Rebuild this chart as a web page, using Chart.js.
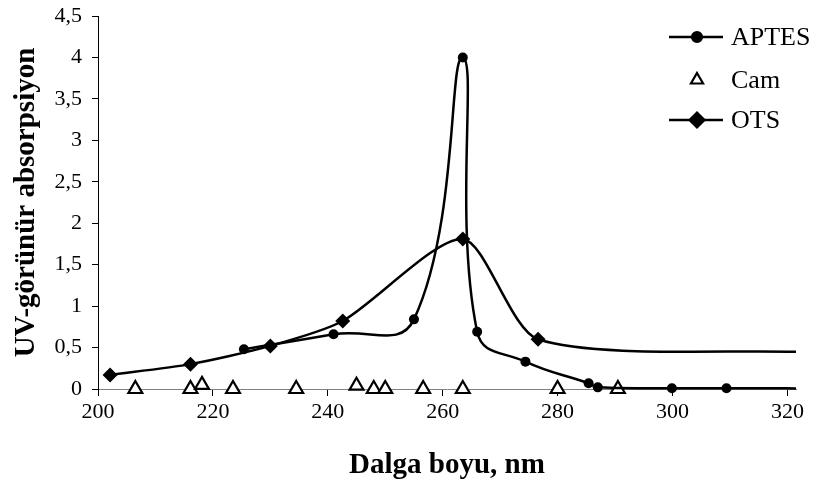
<!DOCTYPE html>
<html>
<head>
<meta charset="utf-8">
<script src="https://cdn.jsdelivr.net/npm/chart.js@4/dist/chart.umd.min.js"></script>
<style>
  html, body { margin: 0; padding: 0; background: #fff; }
  #wrap { width: 816px; height: 486px; position: relative; }
</style>
</head>
<body>
<div id="wrap"><canvas id="uvChart"></canvas></div>
<script>
// wavelength (nm) / absorbance
// the last point of APTES and OTS sits just past the right edge, the lines run on to it
const aptesX = [225.4, 241.0, 255.0, 263.5, 266.0, 274.4, 285.4, 287.0, 299.9, 309.4, 330];
const aptesY = [0.48, 0.66, 0.84, 4.0, 0.69, 0.33, 0.07, 0.02, 0.01, 0.01, 0.005];

const camX = [206.5, 216.1, 218.1, 223.5, 234.5, 245.0, 248.0, 250.0, 256.6, 263.5, 280.0, 290.5];
const camY = [0, 0, 0.05, 0, 0, 0.04, 0, 0, 0, 0, 0, 0];

const otsX = [202.1, 216.1, 230.0, 242.6, 263.5, 276.6, 323];
const otsY = [0.17, 0.30, 0.52, 0.82, 1.81, 0.60, 0.445];

const xTicks = [200, 220, 240, 260, 280, 300, 320];
const yTicks = [0, 0.5, 1, 1.5, 2, 2.5, 3, 3.5, 4, 4.5];
const yTickLabels = ["0", "0,5", "1", "1,5", "2", "2,5", "3", "3,5", "4", "4,5"];

const seriesNames = ["APTES", "Cam", "OTS"];

function toPoints(xs, ys) {
  return xs.map((x, i) => ({ x: x, y: ys[i] }));
}

const FONT = "'Liberation Serif', 'Times New Roman', serif";

// legend drawn on top of the plot, like the original
const legendPlugin = {
  id: "sideLegend",
  afterDraw(chart) {
    const ctx = chart.ctx;
    const items = [
      { name: seriesNames[0], y: 37, line: true, style: "circle", r: 5, fill: "#000" },
      { name: seriesNames[1], y: 80, line: false, style: "triangle", r: 7, fill: "#fff" },
      { name: seriesNames[2], y: 120, line: true, style: "rectRot", r: 7.5, fill: "#000" }
    ];
    ctx.save();
    items.forEach(it => {
      if (it.line) {
        ctx.beginPath();
        ctx.strokeStyle = "#000";
        ctx.lineWidth = 2.5;
        ctx.moveTo(669, it.y);
        ctx.lineTo(723, it.y);
        ctx.stroke();
      }
      ctx.fillStyle = it.fill;
      ctx.strokeStyle = "#000";
      ctx.lineWidth = 2.2;
      Chart.helpers.drawPoint(ctx, { pointStyle: it.style, radius: it.r, rotation: 0, borderWidth: 2.2 }, 697, it.y);
      ctx.fillStyle = "#000";
      ctx.font = "26px " + FONT;
      ctx.textBaseline = "middle";
      ctx.textAlign = "left";
      ctx.fillText(it.name, 731, it.y + 1);
    });
    ctx.restore();
  }
};

const ctx = document.getElementById("uvChart").getContext("2d");
new Chart(ctx, {
  type: "scatter",
  data: {
    datasets: [
      {
        label: seriesNames[0],
        data: toPoints(aptesX, aptesY),
        showLine: true,
        borderColor: "#000",
        backgroundColor: "#000",
        borderWidth: 2.5,
        tension: 0.45,
        pointStyle: "circle",
        pointRadius: 5,
        pointBorderWidth: 0,
        clip: { left: 0, top: 0, right: 0, bottom: 10 }
      },
      {
        label: seriesNames[1],
        data: toPoints(camX, camY),
        showLine: false,
        borderColor: "#000",
        backgroundColor: "#fff",
        pointStyle: "triangle",
        pointRadius: 8,
        pointBorderWidth: 2.2,
        clip: false
      },
      {
        label: seriesNames[2],
        data: toPoints(otsX, otsY),
        showLine: true,
        borderColor: "#000",
        backgroundColor: "#000",
        borderWidth: 2.5,
        tension: 0.25,
        pointStyle: "rectRot",
        pointRadius: otsX.map(x => (x > 321.5 ? 0 : 7.5)),
        pointBorderWidth: 0,
        clip: { left: 0, top: 0, right: 0, bottom: 10 }
      }
    ]
  },
  options: {
    responsive: true,
    maintainAspectRatio: false,
    animation: false,
    events: [],
    layout: { padding: { left: 0, top: 16, right: 20, bottom: 0 }, autoPadding: false },
    plugins: {
      legend: { display: false },
      tooltip: { enabled: false }
    },
    scales: {
      x: {
        type: "linear",
        min: 200,
        max: 321.5,
        afterBuildTicks: (scale) => { scale.ticks = xTicks.map(v => ({ value: v })); },
        afterFit: (scale) => { scale.height = 97; scale.paddingLeft = 0; scale.paddingRight = 0; },
        ticks: {
          color: "#000",
          font: { family: FONT, size: 22 },
          padding: 3,
          maxRotation: 0,
          callback: (v) => String(v)
        },
        grid: { drawOnChartArea: false, drawTicks: true, tickLength: 7, tickColor: "#000" },
        border: { display: true, color: "#808080", width: 1 },
        title: {
          display: true,
          text: "Dalga boyu, nm",
          color: "#000",
          font: { family: FONT, size: 29, weight: "bold" },
          padding: { top: 0, bottom: 3 }
        }
      },
      y: {
        type: "linear",
        min: 0,
        max: 4.5,
        afterBuildTicks: (scale) => { scale.ticks = yTicks.map(v => ({ value: v })); },
        afterFit: (scale) => { scale.width = 98; scale.paddingTop = 0; scale.paddingBottom = 0; },
        ticks: {
          color: "#000",
          font: { family: FONT, size: 22 },
          padding: 10,
          callback: (v) => yTickLabels[yTicks.indexOf(v)]
        },
        grid: { drawOnChartArea: false, drawTicks: true, tickLength: 6, tickColor: "#000" },
        border: { display: true, color: "#000", width: 1 },
        title: {
          display: true,
          text: "UV-görünür absorpsiyon",
          color: "#000",
          font: { family: FONT, size: 29, weight: "bold" },
          padding: { top: 9, bottom: 0 }
        }
      }
    }
  },
  plugins: [legendPlugin]
});
</script>
</body>
</html>
